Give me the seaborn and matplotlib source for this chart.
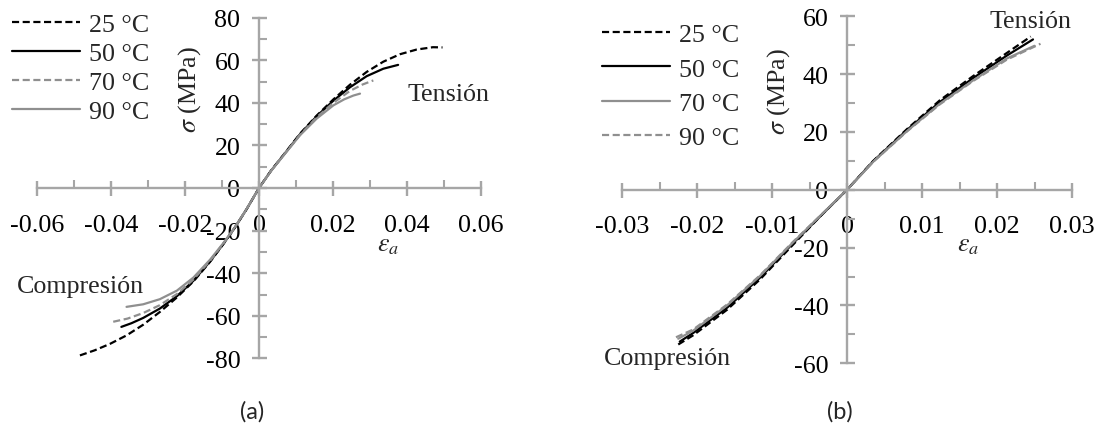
import numpy as np
import pandas as pd
import matplotlib
matplotlib.use("Agg")
import matplotlib.pyplot as plt
import seaborn as sns

# ---------------- data ----------------
temps_a = ["25 °C", "50 °C", "70 °C", "90 °C"]
temps_b = ["25 °C", "50 °C", "70 °C", "90 °C"]

# Panel (a)
eps_a_25 = [-0.0484, -0.0444, -0.0403, -0.0358, -0.0313, -0.0268, -0.0222, -0.0177, -0.0132, -0.0097, -0.0066, -0.0033, 0.0,
            0.0033, 0.0066, 0.0111, 0.0156, 0.0201, 0.0246, 0.0291, 0.0336, 0.0381, 0.0426, 0.0470, 0.0496]
sig_a_25 = [-78.6, -76.2, -73.2, -69.2, -64.2, -58.2, -51.4, -43.8, -34.6, -26.5, -18.8, -9.8, 0.0,
            8.3, 15.5, 25.5, 34.0, 41.6, 48.5, 54.5, 59.3, 62.8, 65.0, 66.1, 66.0]
eps_a_50 = [-0.0372, -0.0345, -0.0313, -0.0268, -0.0222, -0.0177, -0.0132, -0.0097, -0.0066, -0.0033, 0.0,
            0.0033, 0.0066, 0.0111, 0.0156, 0.0201, 0.0246, 0.0291, 0.0336, 0.0376]
sig_a_50 = [-65.2, -63.5, -61.0, -56.6, -50.8, -43.5, -34.4, -26.4, -18.8, -9.8, 0.0,
            8.2, 15.4, 25.3, 33.7, 41.0, 47.3, 52.5, 56.0, 57.8]
eps_a_70 = [-0.0394, -0.0355, -0.0313, -0.0268, -0.0222, -0.0177, -0.0132, -0.0097, -0.0066, -0.0033, 0.0,
            0.0033, 0.0066, 0.0111, 0.0156, 0.0201, 0.0246, 0.0280, 0.0309]
sig_a_70 = [-62.8, -61.3, -58.7, -55.0, -49.8, -42.9, -34.1, -26.2, -18.7, -9.8, 0.0,
            8.2, 15.3, 25.0, 33.2, 40.0, 45.6, 48.6, 50.5]
eps_a_90 = [-0.0358, -0.0313, -0.0268, -0.0222, -0.0177, -0.0132, -0.0097, -0.0066, -0.0033, 0.0,
            0.0033, 0.0066, 0.0111, 0.0156, 0.0201, 0.0230, 0.0255, 0.0273]
sig_a_90 = [-55.8, -54.6, -52.2, -48.2, -42.0, -33.6, -26.0, -18.6, -9.7, 0.0,
            8.1, 15.2, 24.8, 32.6, 38.8, 41.6, 43.4, 44.3]

# Panel (b)
eps_b_25 = [-0.0225, -0.0205, -0.016, -0.0116, -0.0072, -0.0035, 0.0, 0.0035, 0.008, 0.0124, 0.0168, 0.0213, 0.0245]
sig_b_25 = [-53.5, -50.3, -41.5, -31.0, -19.0, -9.0, 0.0, 10.0, 21.0, 31.0, 39.3, 47.3, 53.0]
eps_b_50 = [-0.0223, -0.0205, -0.016, -0.0116, -0.0072, -0.0035, 0.0, 0.0035, 0.008, 0.0124, 0.0168, 0.0213, 0.0248]
sig_b_50 = [-52.5, -49.5, -40.8, -30.4, -18.5, -9.0, 0.0, 9.9, 20.7, 30.4, 38.6, 46.4, 52.0]
eps_b_70 = [-0.0225, -0.0205, -0.016, -0.0116, -0.0072, -0.0035, 0.0, 0.0035, 0.008, 0.0124, 0.0168, 0.0213, 0.025]
sig_b_70 = [-51.5, -48.7, -40.0, -29.8, -18.2, -8.8, 0.0, 9.7, 20.3, 29.8, 37.8, 45.4, 49.8]
eps_b_90 = [-0.0228, -0.0205, -0.016, -0.0116, -0.0072, -0.0035, 0.0, 0.0035, 0.008, 0.0124, 0.0168, 0.0213, 0.0258]
sig_b_90 = [-51.0, -48.3, -39.7, -29.6, -18.0, -8.8, 0.0, 9.7, 20.2, 29.6, 37.6, 45.0, 50.5]

xticks_a = [-0.06, -0.04, -0.02, 0, 0.02, 0.04, 0.06]
xlabels_a = ["-0.06", "-0.04", "-0.02", "0", "0.02", "0.04", "0.06"]
yticks_a = [-80, -60, -40, -20, 0, 20, 40, 60, 80]
xticks_b = [-0.03, -0.02, -0.01, 0, 0.01, 0.02, 0.03]
xlabels_b = ["-0.03", "-0.02", "-0.01", "0", "0.01", "0.02", "0.03"]
yticks_b = [-60, -40, -20, 0, 20, 40, 60]

# ---------------- styling ----------------
sns.set_style("white")
plt.rcParams["font.family"] = ["Liberation Serif", "DejaVu Serif"]
plt.rcParams["mathtext.fontset"] = "stix"

BLACK = "#000000"
GRAY = "#8f8f8f"
AXC = "#a6a6a6"
DASH = (3.2, 1.6)
FS = 18.7

W, H = 1095, 427
fig = plt.figure(figsize=(W / 100, H / 100), dpi=100)

def px_axes(left, right, top, bottom):
    return fig.add_axes([left / W, 1 - bottom / H, (right - left) / W, (bottom - top) / H])

ax_a = px_axes(37, 481, 18.6, 359.4)
ax_b = px_axes(622, 1072, 17.3, 364.3)

df_a = pd.concat([
    pd.DataFrame({"eps": eps_a_25, "sigma": sig_a_25, "T": temps_a[0]}),
    pd.DataFrame({"eps": eps_a_50, "sigma": sig_a_50, "T": temps_a[1]}),
    pd.DataFrame({"eps": eps_a_70, "sigma": sig_a_70, "T": temps_a[2]}),
    pd.DataFrame({"eps": eps_a_90, "sigma": sig_a_90, "T": temps_a[3]}),
], ignore_index=True)
df_b = pd.concat([
    pd.DataFrame({"eps": eps_b_25, "sigma": sig_b_25, "T": temps_b[0]}),
    pd.DataFrame({"eps": eps_b_50, "sigma": sig_b_50, "T": temps_b[1]}),
    pd.DataFrame({"eps": eps_b_70, "sigma": sig_b_70, "T": temps_b[2]}),
    pd.DataFrame({"eps": eps_b_90, "sigma": sig_b_90, "T": temps_b[3]}),
], ignore_index=True)

pal_a = {temps_a[0]: BLACK, temps_a[1]: BLACK, temps_a[2]: GRAY, temps_a[3]: GRAY}
dash_a = {temps_a[0]: DASH, temps_a[1]: "", temps_a[2]: DASH, temps_a[3]: ""}
pal_b = {temps_b[0]: BLACK, temps_b[1]: BLACK, temps_b[2]: GRAY, temps_b[3]: GRAY}
dash_b = {temps_b[0]: DASH, temps_b[1]: "", temps_b[2]: "", temps_b[3]: DASH}

sns.lineplot(data=df_a, x="eps", y="sigma", hue="T", style="T", palette=pal_a, dashes=dash_a,
             hue_order=temps_a, style_order=temps_a, estimator=None, sort=True,
             linewidth=1.6, ax=ax_a, legend=True)
sns.lineplot(data=df_b, x="eps", y="sigma", hue="T", style="T", palette=pal_b, dashes=dash_b,
             hue_order=temps_b, style_order=temps_b, estimator=None, sort=True,
             linewidth=1.6, ax=ax_b, legend=True)

def style_axes(ax, xlim, ylim, xticks, xlabels, yticks, xminor, yminor):
    ax.set_xlim(*xlim)
    ax.set_ylim(*ylim)
    ax.set_xlabel("")
    ax.set_ylabel("")
    for s in ["top", "right"]:
        ax.spines[s].set_visible(False)
    for s in ["left", "bottom"]:
        ax.spines[s].set_position("zero")
        ax.spines[s].set_color(AXC)
        ax.spines[s].set_linewidth(1.7)
    ax.set_xticks(xticks)
    ax.set_xticklabels(xlabels)
    ax.set_yticks(yticks)
    ax.set_yticklabels([str(v) for v in yticks])
    ax.set_xticks(xminor, minor=True)
    ax.set_yticks(yminor, minor=True)
    ax.tick_params(which="both", bottom=True, left=True, top=False, right=False)
    ax.tick_params(which="major", direction="inout", length=10.8, width=1.7, color=AXC,
                   labelsize=FS, labelcolor="black")
    ax.tick_params(axis="y", which="major", pad=8)
    ax.tick_params(axis="x", which="major", pad=13)
    ax.tick_params(which="minor", direction="in", length=5.8, width=1.5, color=AXC)
    ax.set_facecolor("none")
    ax.grid(False)

style_axes(ax_a, (-0.06, 0.06), (-80, 80), xticks_a, xlabels_a, yticks_a,
           [-0.05, -0.03, -0.01, 0.01, 0.03, 0.05], [-70, -50, -30, -10, 10, 30, 50, 70])
style_axes(ax_b, (-0.03, 0.03), (-60, 60), xticks_b, xlabels_b, yticks_b,
           [-0.025, -0.015, -0.005, 0.005, 0.015, 0.025], [-50, -30, -10, 10, 30, 50])

def make_legend(ax, x_px, y_px, spacing):
    handles, labels = ax.get_legend_handles_labels()
    ax.legend(handles, labels, loc="upper left", bbox_to_anchor=(x_px / W, 1 - y_px / H),
              bbox_transform=fig.transFigure, frameon=False, fontsize=FS,
              handlelength=2.6, handletextpad=0.35, borderaxespad=0, borderpad=0,
              labelspacing=spacing)

make_legend(ax_a, 12, 14, 0.22)
make_legend(ax_b, 602, 24, 0.43)
for ax in (ax_a, ax_b):
    for ln in ax.get_legend().get_lines():
        ln.set_linewidth(1.6)

def ftext(x, y, s, **kw):
    fig.text(x / W, 1 - y / H, s, **kw)

# axis titles
ftext(190, 90, r"$\sigma$ (MPa)", rotation=90, ha="center", va="center", fontsize=FS)
ftext(779, 92, r"$\sigma$ (MPa)", rotation=90, ha="center", va="center", fontsize=FS)
ftext(388, 246, r"$\varepsilon_a$", ha="center", va="center", fontsize=FS)
ftext(968, 246, r"$\varepsilon_a$", ha="center", va="center", fontsize=FS)

# annotations
ftext(449, 95, "Tensión", ha="center", va="center", fontsize=FS)
ftext(80, 287, "Compresión", ha="center", va="center", fontsize=FS)
ftext(1031, 22, "Tensión", ha="center", va="center", fontsize=FS)
ftext(667, 359, "Compresión", ha="center", va="center", fontsize=FS)

# panel labels
ftext(252, 412, "(a)", ha="center", va="center", fontsize=17, family=["Lato", "DejaVu Sans"])
ftext(840, 412, "(b)", ha="center", va="center", fontsize=17, family=["Lato", "DejaVu Sans"])

fig.savefig("out.png", dpi=100)
